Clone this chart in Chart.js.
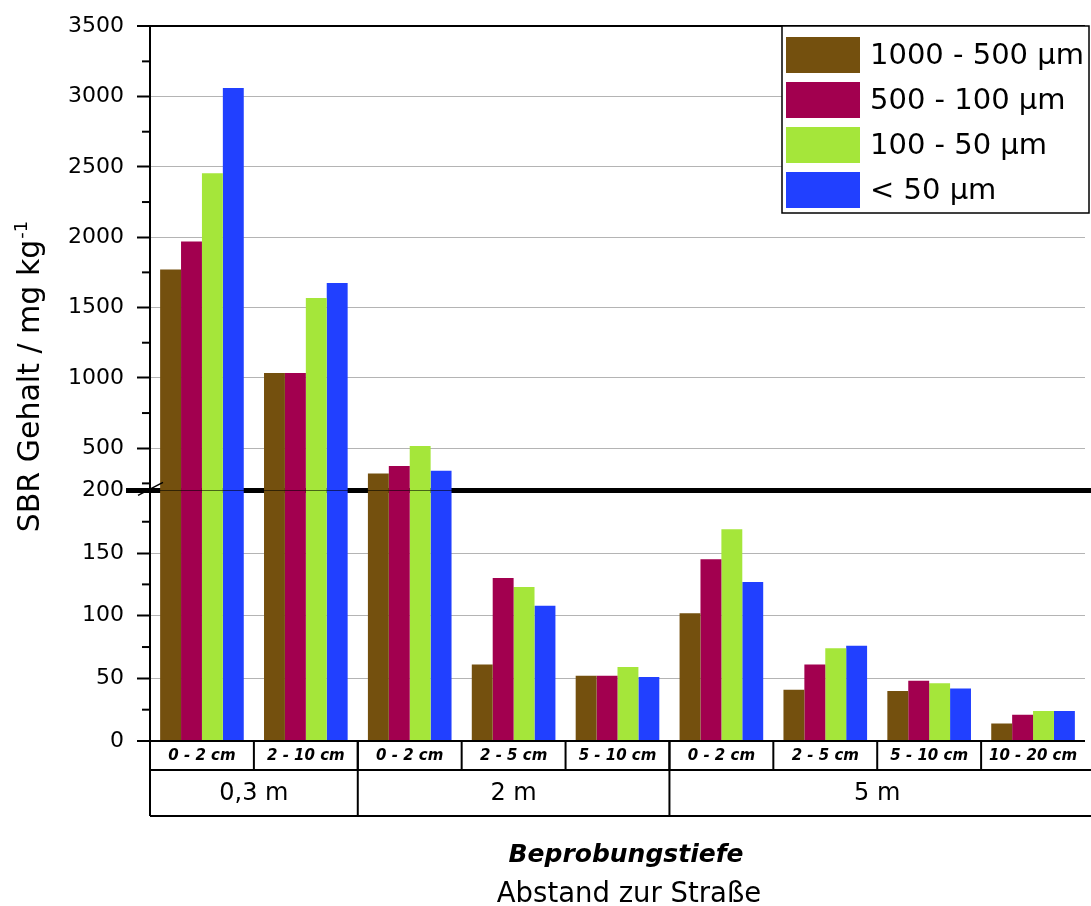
<!DOCTYPE html>
<html>
<head>
<meta charset="utf-8">
<script src="https://cdn.jsdelivr.net/npm/chart.js@4.4.1/dist/chart.umd.min.js"></script>
<style>
html,body{margin:0;padding:0;background:#fff;}
canvas{display:block;}
</style>
</head>
<body>
<canvas id="c" width="1091" height="906"></canvas>
<script>
// ---- data ----
const categories = ['0 - 2 cm','2 - 10 cm','0 - 2 cm','2 - 5 cm','5 - 10 cm','0 - 2 cm','2 - 5 cm','5 - 10 cm','10 - 20 cm'];
const groupLabels = ['0,3 m','2 m','5 m'];
const groupSizes = [2, 3, 4];
const seriesNames = ['1000 - 500 \u00b5m','500 - 100 \u00b5m','100 - 50 \u00b5m','< 50 \u00b5m'];
const s1000_500 = [1770, 1035, 320, 61, 52, 102, 41, 40, 14];
const s500_100  = [1970, 1035, 374, 130, 52, 145, 61, 48, 21];
const s100_50   = [2455, 1568, 516, 123, 59, 169, 74, 46, 24];
const s50       = [3060, 1674, 339, 108, 51, 127, 76, 42, 24];
const upperTicks = [500, 1000, 1500, 2000, 2500, 3000, 3500];
const lowerTicks = [0, 50, 100, 150, 200];
const upperMinor = [250, 750, 1250, 1750, 2250, 2750, 3250];
const lowerMinor = [25, 75, 125, 175];
const breakValue = 200;
const axisMax = 3500;
const xTitle = 'Beprobungstiefe';
const xTitle2 = 'Abstand zur Stra\u00dfe';
const yTitle = 'SBR Gehalt / mg kg';
const yTitleSup = '-1';

// ---- styles ----
const colors = ['#74500e', '#a2004f', '#a5e63a', '#2140ff'];
const FONT = "'DejaVu Sans', sans-serif";
const GRID = '#b4b4b4';

const seriesValues = [s1000_500, s500_100, s100_50, s50];
const datasets = [];
seriesValues.forEach((vals, i) => {
  datasets.push({
    label: seriesNames[i], data: vals.map(v => Math.min(v, breakValue)),
    backgroundColor: colors[i], yAxisID: 'yLow', stack: 's' + i, borderWidth: 0
  });
});
seriesValues.forEach((vals, i) => {
  datasets.push({
    label: seriesNames[i], data: vals.map(v => v > breakValue ? v : null),
    backgroundColor: colors[i], yAxisID: 'yHigh', stack: 's' + i, base: breakValue, borderWidth: 0
  });
});

function gridCfg(blackVals) {
  return {
    color: c => (c.tick && blackVals.includes(c.tick.value)) ? '#000' : GRID,
    lineWidth: c => (c.tick && blackVals.includes(c.tick.value)) ? 2 : 1,
    tickColor: '#000', tickWidth: 2, tickLength: 13, drawTicks: true
  };
}

const breakPlugin = {
  id: 'breakLine',
  beforeDatasetsDraw(chart) {
    const ctx = chart.ctx;
    const y = chart.scales.yLow.getPixelForValue(breakValue);
    ctx.save();
    ctx.strokeStyle = '#000';
    ctx.lineWidth = 5;
    ctx.beginPath();
    ctx.moveTo(126, y);
    ctx.lineTo(chart.width, y);
    ctx.stroke();
    ctx.restore();
  }
};

const decoPlugin = {
  id: 'deco',
  afterDraw(chart) {
    const ctx = chart.ctx;
    const ca = chart.chartArea;
    const x = chart.scales.x;
    const yH = chart.scales.yHigh, yL = chart.scales.yLow;
    ctx.save();
    ctx.strokeStyle = '#000';
    ctx.fillStyle = '#000';

    // minor ticks
    ctx.lineWidth = 2;
    const ax = yL.right;
    upperMinor.forEach(v => {
      const p = yH.getPixelForValue(v);
      ctx.beginPath(); ctx.moveTo(ax - 8, p); ctx.lineTo(ax, p); ctx.stroke();
    });
    lowerMinor.forEach(v => {
      const p = yL.getPixelForValue(v);
      ctx.beginPath(); ctx.moveTo(ax - 8, p); ctx.lineTo(ax, p); ctx.stroke();
    });

    // break slash
    const yb = yL.getPixelForValue(breakValue);
    ctx.lineWidth = 1.5;
    ctx.beginPath(); ctx.moveTo(ax - 12, yb + 5); ctx.lineTo(ax + 13, yb - 8); ctx.stroke();

    // table under the x axis
    const cw = x.getPixelForValue(1) - x.getPixelForValue(0);
    const top = ca.bottom, r1 = top + 29, r2 = top + 75;
    const rightEdge = chart.width;
    ctx.lineWidth = 2;
    ctx.beginPath();
    ctx.moveTo(ca.left, r1); ctx.lineTo(rightEdge, r1);
    ctx.moveTo(ca.left, r2); ctx.lineTo(rightEdge, r2);
    ctx.moveTo(ca.left, top); ctx.lineTo(ca.left, r2);
    ctx.stroke();
    for (let i = 1; i < categories.length; i++) {
      const bx = x.getPixelForValue(i) - cw / 2;
      ctx.beginPath(); ctx.moveTo(bx, top); ctx.lineTo(bx, r1); ctx.stroke();
    }
    ctx.font = "italic bold 15px " + FONT;
    ctx.textAlign = 'center';
    ctx.textBaseline = 'middle';
    categories.forEach((lab, i) => {
      ctx.fillText(lab, x.getPixelForValue(i), top + 15);
    });
    let start = 0;
    ctx.font = "24px " + FONT;
    groupSizes.forEach((n, g) => {
      const gl = x.getPixelForValue(start) - cw / 2;
      const gr = x.getPixelForValue(start + n - 1) + cw / 2;
      if (start > 0) {
        ctx.beginPath(); ctx.moveTo(gl, top); ctx.lineTo(gl, r2); ctx.stroke();
      }
      ctx.fillText(groupLabels[g], (gl + gr) / 2, (r1 + r2) / 2 + 1);
      start += n;
    });

    // x titles
    ctx.textBaseline = 'alphabetic';
    ctx.font = "italic bold 25px " + FONT;
    ctx.fillText(xTitle, 626, 862);
    ctx.font = "27.5px " + FONT;
    ctx.fillText(xTitle2, 629, 902);

    // y title
    ctx.save();
    ctx.translate(39, 377);
    ctx.rotate(-Math.PI / 2);
    ctx.font = "30px " + FONT;
    const w1 = ctx.measureText(yTitle).width;
    ctx.font = "18px " + FONT;
    const w2 = ctx.measureText(yTitleSup).width;
    const sx = -(w1 + w2) / 2;
    ctx.textAlign = 'left';
    ctx.font = "30px " + FONT;
    ctx.fillText(yTitle, sx, 0);
    ctx.font = "18px " + FONT;
    ctx.fillText(yTitleSup, sx + w1 + 1, -12);
    ctx.restore();

    // legend
    const lx = 782, ly = 26, lw = 307, lh = 187;
    ctx.fillStyle = '#fff';
    ctx.fillRect(lx, ly, lw, lh);
    ctx.lineWidth = 1.5;
    ctx.strokeStyle = '#000';
    ctx.strokeRect(lx, ly, lw, lh);
    ctx.font = "29px " + FONT;
    ctx.textAlign = 'left';
    ctx.textBaseline = 'middle';
    chart.data.datasets.slice(0, seriesNames.length).forEach((ds, i) => {
      const sy = 37 + i * 45;
      ctx.fillStyle = ds.backgroundColor;
      ctx.fillRect(786, sy, 74, 36);
      ctx.fillStyle = '#000';
      ctx.fillText(ds.label, 870, sy + 19);
    });
    ctx.restore();
  }
};

const tickFmt = v => String(v);

new Chart(document.getElementById('c'), {
  type: 'bar',
  data: { labels: categories, datasets: datasets },
  options: {
    responsive: false,
    animation: false,
    layout: { padding: { top: 25, right: 6, bottom: 165, left: 0 } },
    categoryPercentage: 0.805,
    barPercentage: 1.0,
    plugins: { legend: { display: false }, tooltip: { enabled: false } },
    scales: {
      x: { type: 'category', display: false, offset: true, grid: { display: false } },
      yHigh: {
        type: 'linear', position: 'left', stack: 'y', stackWeight: 465, weight: 1,
        stacked: false, min: breakValue, max: axisMax,
        afterBuildTicks: s => { s.ticks = upperTicks.map(v => ({ value: v })); },
        afterFit: s => { s.width = 150; },
        ticks: { font: { family: FONT, size: 22 }, color: '#000', padding: 13, callback: tickFmt },
        grid: gridCfg([axisMax]),
        border: { display: true, color: '#000', width: 2 }
      },
      yLow: {
        type: 'linear', position: 'left', stack: 'y', stackWeight: 251, weight: 0,
        stacked: false, min: 0, max: breakValue,
        afterBuildTicks: s => { s.ticks = lowerTicks.map(v => ({ value: v })); },
        afterFit: s => { s.width = 150; },
        ticks: { font: { family: FONT, size: 22 }, color: '#000', padding: 13, callback: tickFmt },
        grid: gridCfg([0, breakValue]),
        border: { display: true, color: '#000', width: 2 }
      }
    }
  },
  plugins: [breakPlugin, decoPlugin]
});
</script>
</body>
</html>
